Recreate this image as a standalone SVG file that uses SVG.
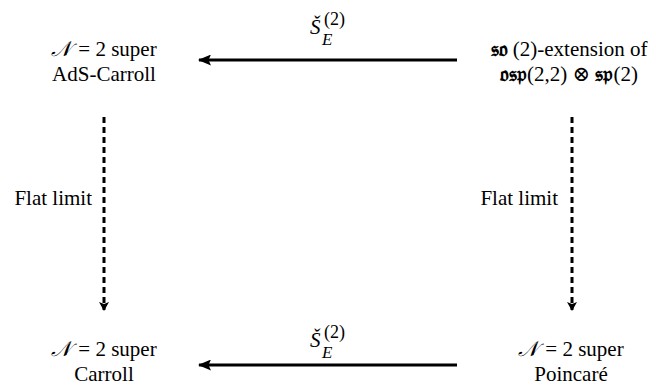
<svg xmlns="http://www.w3.org/2000/svg" width="656" height="390" viewBox="0 0 656 390" font-family="'Liberation Serif', 'Times New Roman', Tinos, 'DejaVu Serif', serif">
<style>
  text { font-family: 'Liberation Serif', 'Times New Roman', Tinos, 'DejaVu Serif', serif; font-size: 21px; fill: #000; }
  .c { text-anchor: middle; }
  .e { text-anchor: end; }
  .m { font-family: 'DejaVu Serif', 'DejaVu Sans', serif; }
  .sup { font-size: 18px; font-style: normal; }
  .sub { font-size: 17px; font-style: italic; }
  .solid { stroke: #000; stroke-width: 3; fill: none; }
  .dash { stroke: #000; stroke-width: 3; fill: none; stroke-dasharray: 6 4; }
</style>
<defs>
  <marker id="big" viewBox="0 0 13 11" refX="12" refY="5.5" markerWidth="13" markerHeight="11" markerUnits="userSpaceOnUse" orient="auto">
    <path d="M0,0 L13,5.5 L0,11 L2.5,5.5 Z" fill="#000"/>
  </marker>
  <marker id="small" viewBox="0 0 9 10" refX="8" refY="5" markerWidth="9" markerHeight="10" markerUnits="userSpaceOnUse" orient="auto">
    <path d="M0,0 L9,5 L0,10 L2,5 Z" fill="#000"/>
  </marker>
</defs>

<g id="node-ads-carroll">
  <text class="c" x="104" y="56"><tspan class="m" font-style="italic">𝒩</tspan><tspan dx="7">= 2 super</tspan></text>
  <text class="c" x="104" y="81">AdS-Carroll</text>
</g>
<g id="node-extension">
  <text class="c" x="569" y="56"><tspan class="m" font-weight="bold">𝔰𝔬</tspan> (2)-extension of</text>
  <text class="c" x="569" y="81"><tspan class="m" font-weight="bold">𝔬𝔰𝔭</tspan>(2,2) ⊗ <tspan class="m" font-weight="bold">𝔰𝔭</tspan>(2)</text>
</g>
<g id="node-carroll">
  <text class="c" x="104" y="356"><tspan class="m" font-style="italic">𝒩</tspan><tspan dx="7">= 2 super</tspan></text>
  <text class="c" x="104" y="381">Carroll</text>
</g>
<g id="node-poincare">
  <text class="c" x="571" y="356"><tspan class="m" font-style="italic">𝒩</tspan><tspan dx="7">= 2 super</tspan></text>
  <text class="c" x="571" y="381">Poincaré</text>
</g>

<g id="connectors">
  <line class="solid" x1="457" y1="60" x2="199" y2="60" marker-end="url(#big)"/>
  <line class="solid" x1="457" y1="365" x2="199" y2="365" marker-end="url(#big)"/>
  <line class="dash" x1="104" y1="117" x2="104" y2="310" marker-end="url(#small)"/>
  <line class="dash" x1="572" y1="117" x2="572" y2="310" marker-end="url(#small)"/>
  <text id="label-top" x="310" y="34" font-style="italic">Š<tspan class="sup" x="324" y="25">(2)</tspan><tspan class="sub" x="322" y="45">E</tspan></text>
  <text id="label-bottom" x="310" y="347" font-style="italic">Š<tspan class="sup" x="324" y="338">(2)</tspan><tspan class="sub" x="322" y="358">E</tspan></text>
  <text class="e" x="92" y="205">Flat limit</text>
  <text class="e" x="558" y="205">Flat limit</text>
</g>
</svg>
